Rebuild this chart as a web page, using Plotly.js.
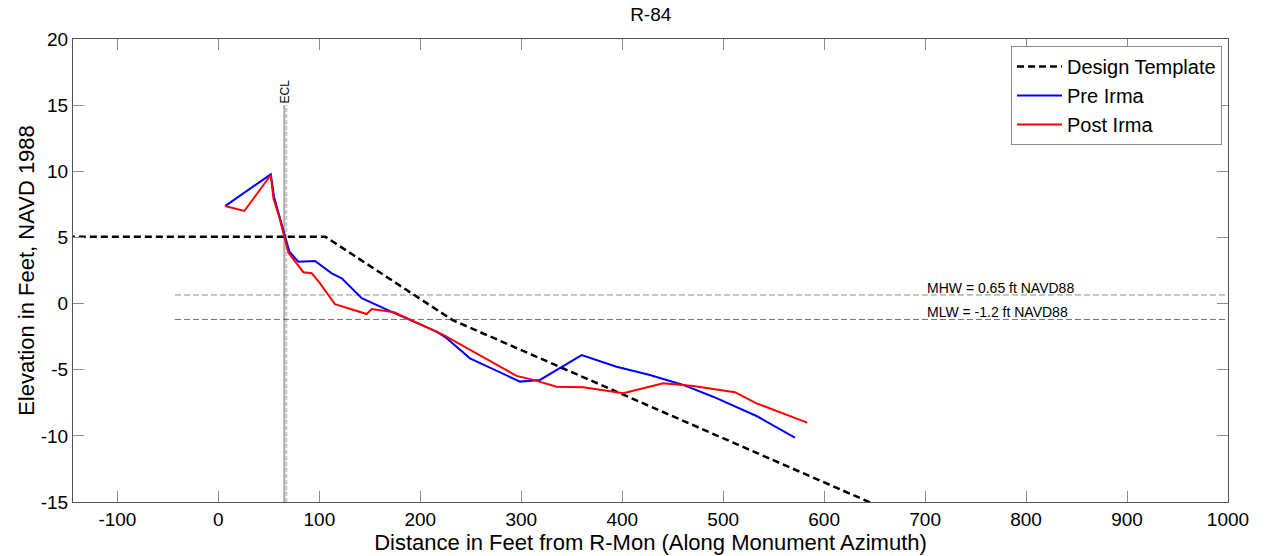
<!DOCTYPE html>
<html>
<head>
<meta charset="utf-8">
<script src="https://cdn.plot.ly/plotly-3.0.1.min.js"></script>
<style>
  html, body { margin: 0; padding: 0; background: #fff; }
  #chart { width: 1266px; height: 556px; }
</style>
</head>
<body>
<div id="chart"></div>
<script>
// Design template
const designX = [-160, 106, 232, 700];
const designY = [5.05, 5.05, -1.25, -16.85];

// Pre Irma profile
const preX = [6.6, 51.9, 55.1, 66, 70.3, 79.2, 95.7, 112.3, 122.2, 142, 153.5, 173.3, 216.2, 226.1, 249.2, 298.7, 318.5, 359.8, 394.4, 427.4, 460.4, 490, 533, 571];
const preY = [7.37, 9.77, 8.08, 5.06, 3.92, 3.17, 3.22, 2.29, 1.91, 0.4, 0.02, -0.68, -2.12, -2.62, -4.14, -5.9, -5.77, -3.89, -4.77, -5.4, -6.15, -7.04, -8.5, -10.13];

// Post Irma profile
const postX = [6.6, 25.7, 51.9, 54.5, 61.1, 69.3, 84.2, 92.5, 100.7, 115.5, 146.9, 151.9, 174, 222.8, 295.4, 311.9, 335, 361.4, 401, 440.6, 470.3, 511.6, 533, 583.2];
const postY = [7.37, 7.0, 9.72, 7.96, 6.32, 3.85, 2.37, 2.29, 1.53, -0.05, -0.79, -0.42, -0.66, -2.37, -5.47, -5.77, -6.28, -6.33, -6.78, -6.02, -6.23, -6.7, -7.54, -9.0];

// Reference lines
const eclX = [65.3, 67.3];
const eclY = [-15, 15];
const tideX = [-43, 1000];
const mhw = 0.65;
const mlw = -1.2;
const mhwLabel = 'MHW = 0.65 ft NAVD88';
const mlwLabel = 'MLW = -1.2 ft NAVD88';
const labelX = 700;

const xTicks = [-100, 0, 100, 200, 300, 400, 500, 600, 700, 800, 900, 1000];
const yTicks = [-15, -10, -5, 0, 5, 10, 15, 20];

const FONT = '"Liberation Sans", Arial, Helvetica, sans-serif';

const traces = [
  { x: [eclX[0], eclX[0]], y: eclY, mode: 'lines', line: { color: '#a8a8a8', width: 2 }, showlegend: false, hoverinfo: 'skip' },
  { x: [eclX[1], eclX[1]], y: eclY, mode: 'lines', line: { color: '#c4c4c4', width: 2, dash: '4px,2px' }, showlegend: false, hoverinfo: 'skip' },
  { x: tideX, y: [mhw, mhw], mode: 'lines', line: { color: '#8a8a8a', width: 1, dash: '6px,3px' }, showlegend: false, hoverinfo: 'skip' },
  { x: tideX, y: [mlw, mlw], mode: 'lines', line: { color: '#707070', width: 1, dash: '6px,3px' }, showlegend: false, hoverinfo: 'skip' },
  { x: designX, y: designY, mode: 'lines', name: 'Design Template', line: { color: '#000000', width: 2.5, dash: '7px,4px' } },
  { x: preX, y: preY, mode: 'lines', name: 'Pre Irma', line: { color: '#0000ff', width: 2 } },
  { x: postX, y: postY, mode: 'lines', name: 'Post Irma', line: { color: '#ff0000', width: 2 } }
];

const axisCommon = {
  ticks: 'inside', ticklen: 11, tickwidth: 1, tickcolor: '#8c8c8c',
  showline: true, linecolor: '#555555', linewidth: 1, mirror: 'ticks',
  showgrid: false, zeroline: false,
  tickfont: { family: FONT, size: 19, color: '#000' }
};

const layout = {
  width: 1266, height: 556,
  margin: { l: 73, r: 38, t: 39, b: 54 },
  paper_bgcolor: '#fff', plot_bgcolor: '#fff',
  font: { family: FONT, color: '#000' },
  title: { text: 'R-84', font: { family: FONT, size: 19, color: '#000' }, x: 0.514, xanchor: 'center', yref: 'container', y: 0.975, yanchor: 'middle' },
  xaxis: Object.assign({}, axisCommon, {
    range: [-144, 1000], tickmode: 'array', tickvals: xTicks, ticktext: xTicks.map(String),
    title: { text: 'Distance in Feet from R-Mon (Along Monument Azimuth)', font: { family: FONT, size: 22, color: '#000' }, standoff: 3 }
  }),
  yaxis: Object.assign({}, axisCommon, {
    range: [-15, 20], tickmode: 'array', tickvals: yTicks, ticktext: yTicks.map(String),
    title: { text: 'Elevation in Feet, NAVD 1988', font: { family: FONT, size: 22, color: '#000' }, standoff: 0 }
  }),
  legend: {
    x: 0.9948, y: 0.985, xanchor: 'right', yanchor: 'top',
    bgcolor: '#fff', bordercolor: '#8c8c8c', borderwidth: 1,
    font: { family: FONT, size: 20, color: '#000' },
    itemwidth: 45,
    tracegroupgap: 0
  },
  annotations: [
    { x: (eclX[0] + eclX[1]) / 2, y: eclY[1], xref: 'x', yref: 'y', text: 'ECL', textangle: -90, showarrow: false, yanchor: 'bottom', xanchor: 'center', font: { family: FONT, size: 12, color: '#000' } },
    { x: labelX, y: mhw, xref: 'x', yref: 'y', text: mhwLabel, showarrow: false, xanchor: 'left', yanchor: 'bottom', yshift: -3, font: { family: FONT, size: 14, color: '#000' } },
    { x: labelX, y: mlw, xref: 'x', yref: 'y', text: mlwLabel, showarrow: false, xanchor: 'left', yanchor: 'bottom', yshift: -3, font: { family: FONT, size: 14, color: '#000' } }
  ],
  showlegend: true
};

Plotly.newPlot('chart', traces, layout, { displayModeBar: false, staticPlot: true });
</script>
</body>
</html>
